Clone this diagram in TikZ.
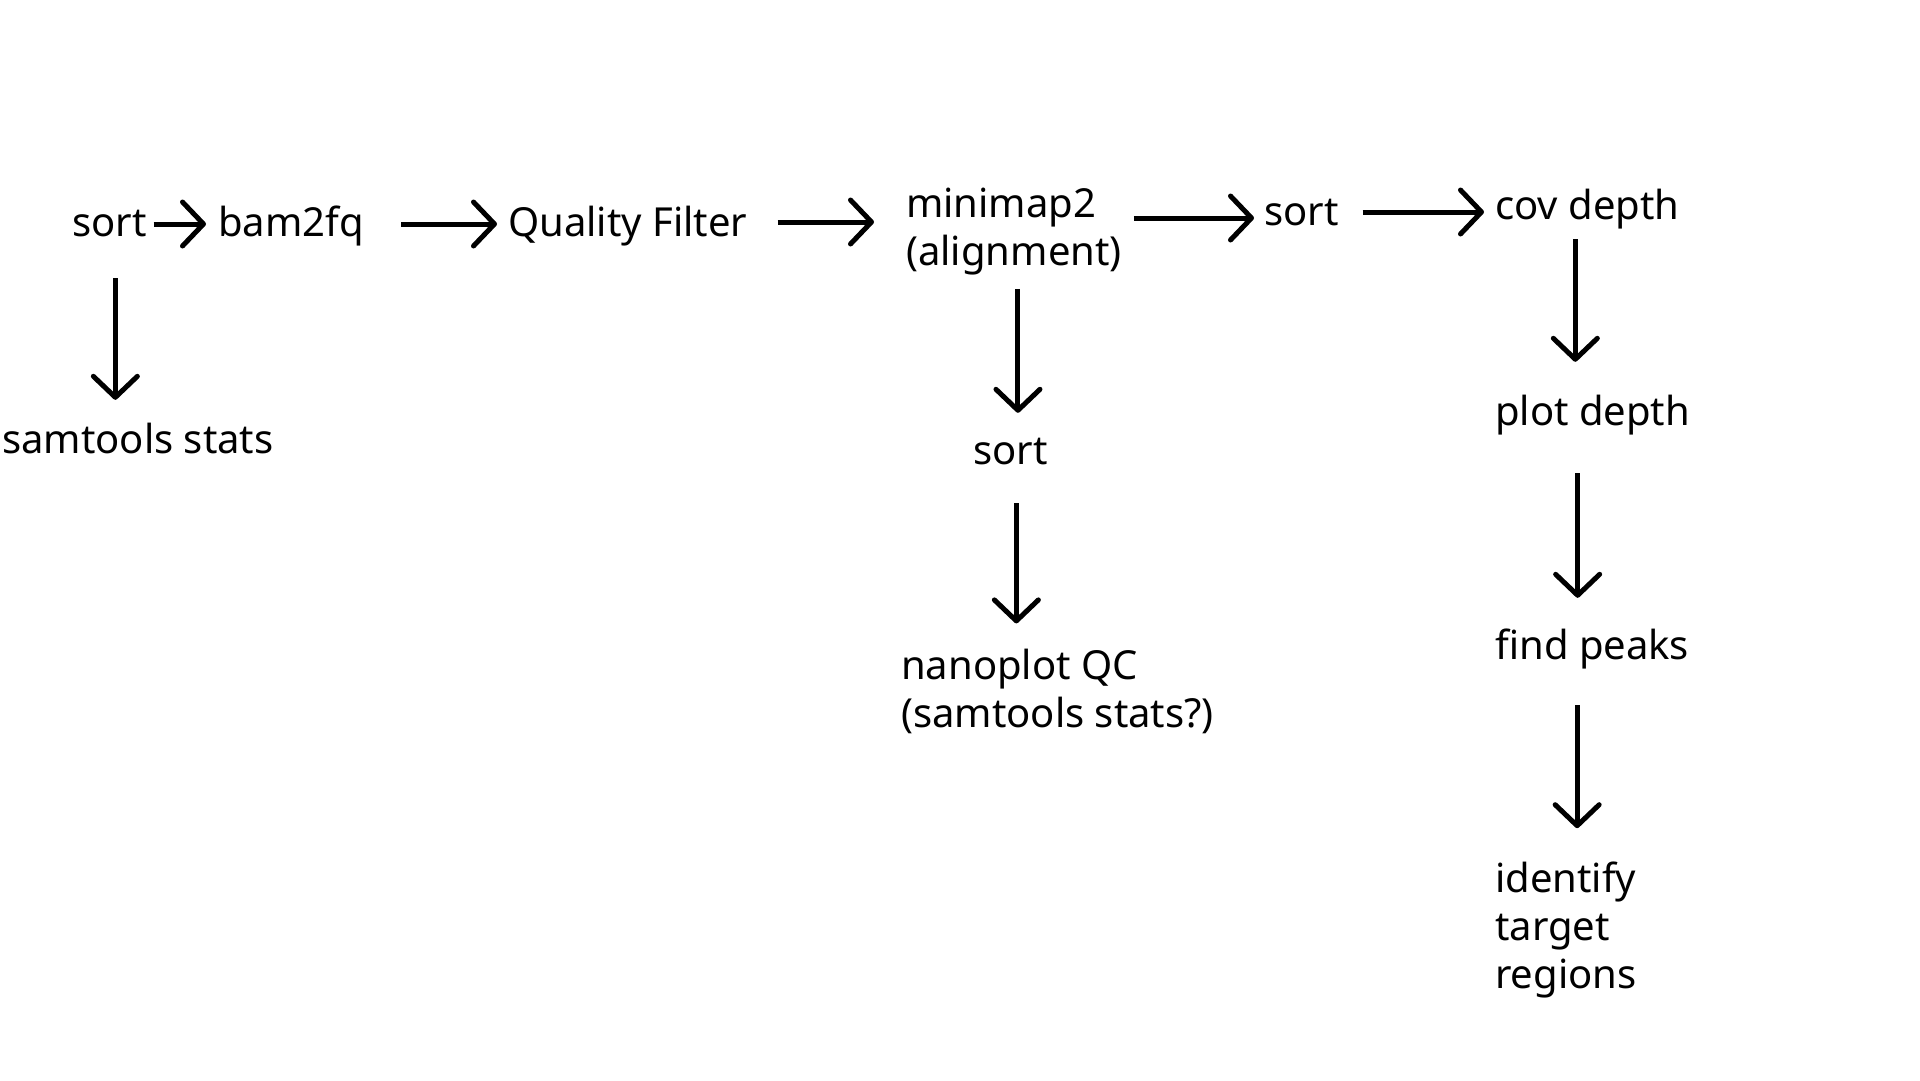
\documentclass[tikz,border=0pt]{standalone}
\usepackage{fontspec}
\setmainfont{Noto Sans}
\usetikzlibrary{arrows.meta}
\begin{document}
\begin{tikzpicture} [x=1pt,y=-1pt,
	step label/.style={anchor=base west,inner sep=0pt,text height=28pt,text depth=10pt,font=\fontsize{40}{48}\selectfont},
	multi label/.style={anchor=base west,inner sep=0pt,align=left,font=\fontsize{40}{48}\selectfont},
	flow/.style={-{Straight Barb[length=21pt,width=44pt,round]},line width=5pt}]
	\useasboundingbox (0,0) rectangle (1920,1080);

	\node (sortNode) at (72,236)[step label] {sort};
	\node (bamNode) at (218,236)[step label] {bam2fq};
	\node (filterNode) at (508,236)[step label] {Quality Filter};
	\node (mapNode) at (906,265)[multi label] {minimap2\\(alignment)};
	\node (sortTwoNode) at (1264,225)[step label] {sort};
	\node (covNode) at (1495,219)[step label] {cov depth};
	\node (statsNode) at (2,453)[step label] {samtools stats};
	\node (sortThreeNode) at (973,464)[step label] {sort};
	\node (nanoNode) at (901,727)[multi label] {nanoplot QC\\(samtools stats?)};
	\node (plotNode) at (1495,425)[step label] {plot depth};
	\node (peakNode) at (1495,659)[step label] {find peaks};
	\node (targetNode) at (1495,988)[multi label] {identify\\target\\regions};

	\draw[flow,shorten <=7pt,shorten >=12pt] ([yshift=12pt]sortNode.base east) -- ([yshift=12pt]bamNode.base west);
	\draw[flow,shorten <=37pt,shorten >=11pt] ([yshift=12pt]bamNode.base east) -- ([yshift=12pt]filterNode.base west);
	\draw[flow,shorten <=30pt,shorten >=32pt] ([yshift=14pt]filterNode.base east) -- ([yshift=14pt]filterNode.base east -| mapNode.west);
	\draw[flow,shorten <=12pt,shorten >=10pt] ([yshift=7pt]sortTwoNode.base west -| mapNode.east) -- ([yshift=7pt]sortTwoNode.base west);
	\draw[flow,shorten <=24pt,shorten >=11pt] ([yshift=13pt]sortTwoNode.base east) -- ([yshift=13pt]sortTwoNode.base east -| covNode.west);

	\draw[flow,shorten <=32pt,shorten >=25pt] ([xshift=6pt]sortNode.south) -- ([xshift=6pt]sortNode.south |- statsNode.north);
	\draw[flow,shorten <=14pt,shorten >=23pt] ([xshift=4pt]mapNode.south) -- ([xshift=4pt]mapNode.south |- sortThreeNode.north);
	\draw[flow,shorten <=29pt,shorten >=25pt] ([xshift=6pt]sortThreeNode.south) -- ([xshift=6pt]sortThreeNode.south |- nanoNode.north);
	\draw[flow,shorten <=10pt,shorten >=35pt] ([xshift=-12pt]covNode.south) -- ([xshift=-12pt]covNode.south |- plotNode.north);
	\draw[flow,shorten <=38pt,shorten >=33pt] ([xshift=-15pt]plotNode.south) -- ([xshift=-15pt]plotNode.south |- peakNode.north);
	\draw[flow,shorten <=36pt,shorten >=33pt] ([xshift=-15pt]peakNode.south) -- ([xshift=-15pt]peakNode.south |- targetNode.north);
\end{tikzpicture}
\end{document}
